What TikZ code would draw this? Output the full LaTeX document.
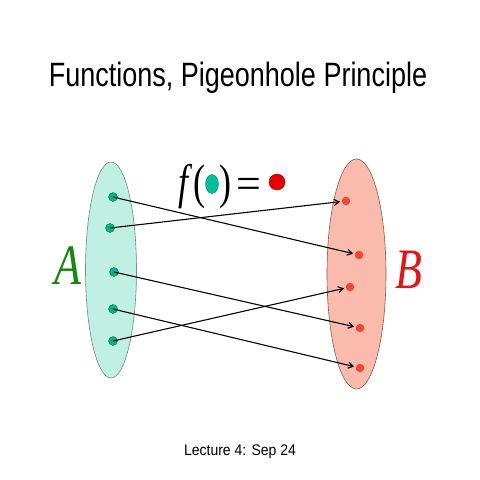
\documentclass[tikz,border=0pt]{standalone}
\usepackage{fontspec}
\setmainfont{Liberation Sans}
\newfontfamily\serifit{Liberation Serif}[ItalicFont=* Italic]
\usetikzlibrary{arrows.meta,shapes.geometric}
\definecolor{afill}{RGB}{192,240,226}
\definecolor{aline}{RGB}{110,140,130}
\definecolor{bfill}{RGB}{250,186,172}
\definecolor{bline}{RGB}{130,95,85}
\definecolor{adot}{RGB}{0,178,138}
\definecolor{adotline}{RGB}{0,120,90}
\definecolor{bdot}{RGB}{240,72,52}
\definecolor{agreen}{RGB}{20,135,20}
\definecolor{bred}{RGB}{228,20,20}
\definecolor{fdot}{RGB}{0,190,150}
\definecolor{rdot}{RGB}{232,0,0}
\begin{document}
\begin{tikzpicture}[x=1pt,y=-1pt,
  setA/.style={ellipse,draw=aline,fill=afill,line width=0.6pt,inner sep=0pt},
  setB/.style={ellipse,draw=bline,fill=bfill,line width=0.6pt,inner sep=0pt},
  adotst/.style={circle,fill=adot,draw=adotline,line width=0.4pt,inner sep=0pt,minimum size=9pt},
  bdotst/.style={circle,fill=bdot,inner sep=0pt,minimum size=8.5pt},
  maparrow/.style={-{Straight Barb[length=5pt,width=6pt]},line width=1.1pt,shorten >=1.5pt},
  bigit/.style={font=\fontsize{44}{50}\selectfont\serifit\itshape,yscale=1.3,inner sep=0pt}
]
\useasboundingbox (0,0) rectangle (480,480);
\fill[white] (0,0) rectangle (480,480);

\node[font=\fontsize{27}{30}\selectfont,yscale=1.25,inner sep=0pt] (title) at (238,78) {Functions, Pigeonhole Principle};

\node[setA,minimum width=51pt,minimum height=216pt] (A) at (111,270) {};
\node[setB,minimum width=59pt,minimum height=230pt] (B) at (356.5,274) {};

\node[bigit,text=agreen] (Alab) at (68,266) {A};
\node[bigit,text=bred] (Blab) at (409,270) {B};

\node[adotst] (a1) at (113,197) {};
\node[adotst] (a2) at (110,228) {};
\node[adotst] (a3) at (114,272) {};
\node[adotst] (a4) at (113,309) {};
\node[adotst] (a5) at (113,341) {};

\node[bdotst] (b1) at (346,201) {};
\node[bdotst] (b2) at (359,255) {};
\node[bdotst] (b3) at (350,287) {};
\node[bdotst] (b4) at (360,328) {};
\node[bdotst] (b5) at (360,368) {};

\draw[maparrow] (a1.center) -- (b2);
\draw[maparrow] (a2.center) -- (b1);
\draw[maparrow] (a3.center) -- (b4);
\draw[maparrow] (a4.center) -- (b5);
\draw[maparrow] (a5.center) -- (b3);

\node[font=\fontsize{36}{40}\selectfont\serifit\itshape,yscale=1.35,inner sep=0pt] (fl) at (192,187) {f\/\upshape(};
\node[ellipse,fill=fdot,draw=adotline,line width=0.3pt,minimum width=13pt,minimum height=19pt,inner sep=0pt] (fd) at (212,184) {};
\node[font=\fontsize{36}{40}\selectfont\serifit,yscale=1.35,inner sep=0pt] (fr) at (225,187) {)};
\node[font=\fontsize{44}{50}\selectfont\serifit,inner sep=0pt] (eq) at (249,188) {=};
\node[circle,fill=rdot,draw=red!60!black,line width=0.4pt,minimum size=16pt,inner sep=0pt] (rd) at (277,182) {};

\node[font=\fontsize{14}{16}\selectfont,yscale=1.1] (lec) at (240,452) {Lecture 4: Sep 24};
\end{tikzpicture}
\end{document}
